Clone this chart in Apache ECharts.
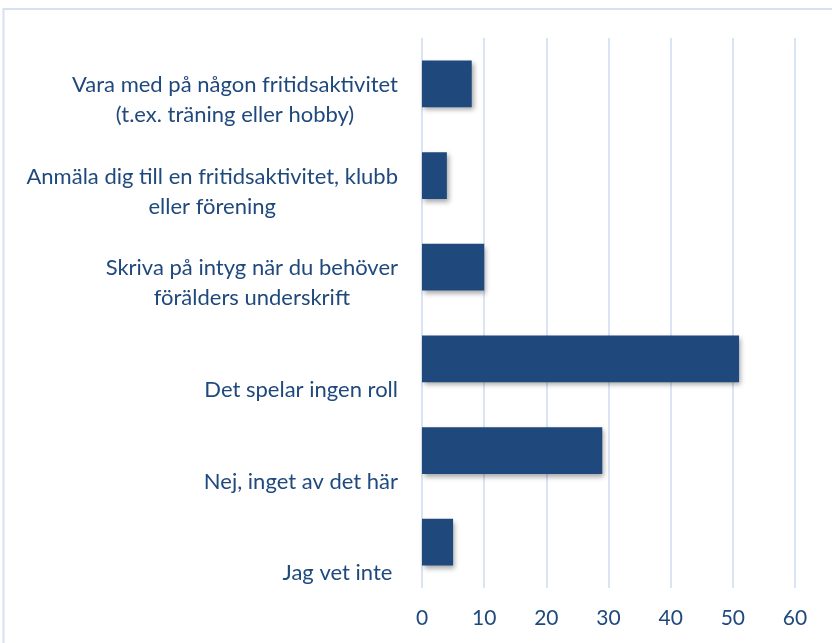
<!DOCTYPE html>
<html>
<head>
<meta charset="utf-8">
<script src="https://cdn.jsdelivr.net/npm/echarts@6/dist/echarts.min.js"></script>
<style>
  html, body { margin: 0; padding: 0; background: #fff; }
  #chart { width: 832px; height: 643px; }
</style>
</head>
<body>
<div id="chart"></div>
<script>
// svarsalternativ, uppifrån och ned
const categories = [
    'Vara med på någon fritidsaktivitet\n(t.ex. träning eller hobby)',
    'Anmäla dig till en fritidsaktivitet, klubb\neller förening',
    'Skriva på intyg när du behöver\nförälders underskrift',
    'Det spelar ingen roll',
    'Nej, inget av det här',
    'Jag vet inte '
];
const values = [8, 4, 10, 51, 29, 5];
const xTicks = [0, 60, 10]; // min, max, steg

const textColor = '#1f497d';
const fontFamily = 'Lato, "Open Sans", sans-serif';

document.addEventListener('DOMContentLoaded', () => {
    const myChart = echarts.init(document.getElementById('chart'));
    const option = {
        animation: false,
        backgroundColor: '#fff',
        graphic: [{
            type: 'rect',
            shape: { x: 3.5, y: 9, width: 900, height: 700 },
            style: { fill: 'none', stroke: '#d6e2f3', lineWidth: 2 },
            silent: true
        }],
        grid: { left: 422, right: 37, top: 38, bottom: 55 },
        xAxis: {
            type: 'value',
            min: xTicks[0],
            max: xTicks[1],
            interval: xTicks[2],
            axisLine: { show: false },
            axisTick: { show: false },
            splitLine: { lineStyle: { color: '#d9e4f4', width: 2 } },
            axisLabel: { color: textColor, fontFamily, fontSize: 21, margin: 20 }
        },
        yAxis: {
            type: 'category',
            inverse: true,
            data: categories,
            axisLine: { show: false },
            axisTick: { show: false },
            axisLabel: {
                margin: 24,
                align: 'right',
                padding: [32, 0, 0, 0],
                formatter: (v) => {
                    const lines = v.split('\n');
                    if (lines.length === 1) lines.unshift(' ');
                    return lines.map(l => '{c|' + l + '}').join('\n');
                },
                rich: {
                    c: {
                        align: 'center',
                        color: textColor,
                        fontFamily,
                        fontSize: 22,
                        lineHeight: 30
                    }
                }
            }
        },
        series: [{
            type: 'bar',
            data: values,
            barCategoryGap: '49%',
            itemStyle: {
                color: '#1f497d',
                shadowColor: 'rgba(0,0,0,0.35)',
                shadowBlur: 5,
                shadowOffsetX: 2,
                shadowOffsetY: 3
            }
        }]
    };
    myChart.setOption(option);
    window.addEventListener('resize', () => myChart.resize());
});
</script>
</body>
</html>
